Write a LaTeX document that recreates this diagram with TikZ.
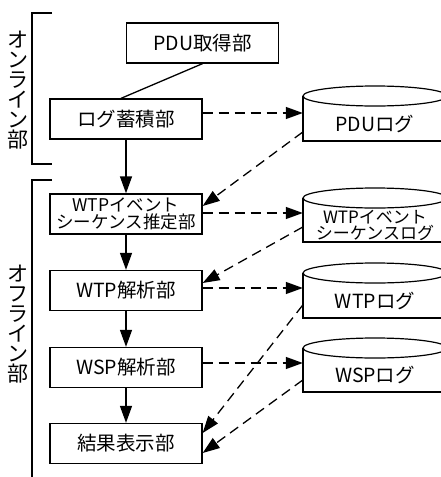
\documentclass[tikz,border=0pt]{standalone}
\usepackage{fontspec}
\setmainfont{Noto Sans CJK JP}
\usetikzlibrary{arrows.meta}
\tikzset{
  box/.style={draw, line width=1.3pt, minimum width=152pt, minimum height=40pt, inner sep=0pt, font=\fontsize{19.5}{21}\selectfont},
  cylbody/.style={minimum width=144pt, inner sep=0pt, font=\fontsize{19.5}{21}\selectfont},
  cylline/.style={line width=1.2pt},
  solidarr/.style={line width=1.3pt, -{Triangle[length=17pt,width=12pt]}},
  dasharr/.style={line width=1.3pt, dash pattern=on 10pt off 6pt, -{Triangle[length=17pt,width=12pt]}},
  brk/.style={line width=1.3pt},
  vlabel/.style={align=center, inner sep=0pt, font=\fontsize{21}{20}\selectfont}
}
\begin{document}
\begin{tikzpicture}[x=1pt,y=-1pt]
\useasboundingbox (0,0) rectangle (441,477);
\clip (0,0) rectangle (441,477);
% left column boxes
\node[box] (pdu) at (202.5,43) {PDU取得部};
\node[box] (log) at (126,119) {ログ蓄積部};
\node[box, font=\fontsize{17.5}{16.5}\selectfont, align=center] (est) at (126,214) {WTPイベント\\シーケンス推定部};
\node[box] (wtp) at (126,290.5) {WTP解析部};
\node[box] (wsp) at (126,367.5) {WSP解析部};
\node[box] (res) at (126,443.5) {結果表示部};
% cylinders (right side cut by the picture edge)
\node[cylbody, minimum height=35pt] (pdulog) at (375,123.5) {PDUログ};
\draw[cylline] (375,96) ellipse [x radius=72, y radius=10];
\draw[cylline] (303,96) -- (303,141) -- (447,141);
\node[cylbody, minimum height=34pt, align=center, font=\fontsize{17}{16}\selectfont] (estlog) at (375,225) {WTPイベント\\シーケンスログ};
\draw[cylline] (375,198) ellipse [x radius=72, y radius=10];
\draw[cylline] (303,198) -- (303,242) -- (447,242);
\node[cylbody, minimum height=35pt] (wtplog) at (375,300.5) {WTPログ};
\draw[cylline] (375,273) ellipse [x radius=72, y radius=10];
\draw[cylline] (303,273) -- (303,318) -- (447,318);
\node[cylbody, minimum height=34pt] (wsplog) at (375,375) {WSPログ};
\draw[cylline] (375,348) ellipse [x radius=72, y radius=10];
\draw[cylline] (303,348) -- (303,392) -- (447,392);
% brackets and vertical labels
\draw[brk] (52,13) -- (32,13) -- (32,164) -- (52,164);
\draw[brk] (52,180) -- (32,180) -- (32,480);
\node[vlabel] (onl) at (17.5,90) {オ\\ン\\ラ\\イ\\ン\\部};
\node[vlabel] (offl) at (17.5,324) {オ\\フ\\ラ\\イ\\ン\\部};
% solid connectors
\draw[line width=1.3pt] (pdu.south) -- ([xshift=-5pt]log.north);
\draw[solidarr] (log) -- (est);
\draw[solidarr] (est) -- (wtp);
\draw[solidarr] (wtp) -- (wsp);
\draw[solidarr] (wsp) -- (res);
% dashed to logs
\draw[dasharr] ([yshift=6pt]log.east) -- ([yshift=6pt]log.east -| pdulog.west);
\draw[dasharr] ([yshift=1pt]est.east) -- ([yshift=1pt]est.east -| estlog.west);
\draw[dasharr] ([yshift=2.5pt]wtp.east) -- ([yshift=2.5pt]wtp.east -| wtplog.west);
\draw[dasharr] ([yshift=4.5pt]wsp.east) -- ([yshift=4.5pt]wsp.east -| wsplog.west);
% dashed from logs
\draw[dasharr] ([yshift=-8.5pt]pdulog.west) -- ([yshift=8pt]est.east);
\draw[dasharr] ([yshift=-2pt]estlog.west) -- ([yshift=7.5pt]wtp.east);
\draw[dasharr] ([yshift=-4.5pt]wtplog.west) -- ([yshift=10.5pt]res.east);
\draw[dasharr] ([yshift=-5pt]wsplog.west) -- ([yshift=-9.5pt]res.east);
\end{tikzpicture}
\end{document}
